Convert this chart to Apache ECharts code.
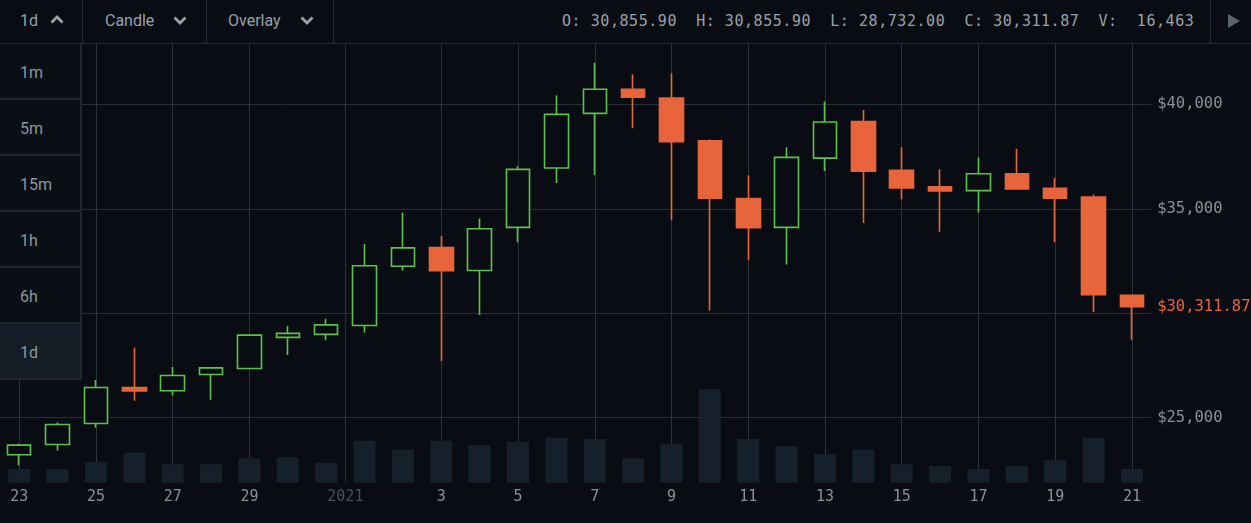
<!DOCTYPE html>
<html>
<head>
<meta charset="utf-8">
<script src="https://cdn.jsdelivr.net/npm/echarts@6/dist/echarts.min.js"></script>
<style>
html,body{margin:0;padding:0;background:#090d13;width:1251px;height:523px;overflow:hidden;}
#chart{position:absolute;left:0;top:0;width:1251px;height:523px;}
#top{position:absolute;left:0;top:0;width:1251px;height:43px;background:#090d13;border-bottom:1px solid #262d35;font-family:Roboto,'Noto Sans',sans-serif;font-size:16px;color:#97a1ab;}
.txt{position:absolute;top:0;height:43px;line-height:42px;white-space:pre;}
.sep{position:absolute;top:0;width:1px;height:43px;background:#262d35;}
.chev{position:absolute;top:15px;}
#ohlc{position:absolute;left:562px;top:0;height:43px;line-height:42px;font-family:'DejaVu Sans Mono',monospace;font-size:15px;letter-spacing:0.55px;color:#9ba1a8;white-space:pre;}
#menu{position:absolute;left:0;top:44px;width:80px;border-right:2px solid #1f262e;}
.item{height:54px;border-bottom:2px solid #1f262e;padding-left:20px;line-height:57px;font-family:Roboto,'Noto Sans',sans-serif;font-size:16px;color:#8e969e;background:#0a0f15;}
.item.sel{background:#141c25;}
</style>
</head>
<body>
<div id="chart"></div>
<div id="top">
  <div class="txt" style="left:20px;">1d</div>
  <svg class="chev" style="left:50px;" width="14" height="9"><polyline points="1.5,7.5 7,2 12.5,7.5" fill="none" stroke="#9aa3ad" stroke-width="2.8"/></svg>
  <div class="sep" style="left:82px;"></div>
  <div class="txt" style="left:105px;">Candle</div>
  <svg class="chev" style="left:173px;top:16px;" width="14" height="9"><polyline points="1.5,1.5 7,7 12.5,1.5" fill="none" stroke="#9aa3ad" stroke-width="2.8"/></svg>
  <div class="sep" style="left:206px;"></div>
  <div class="txt" style="left:228px;">Overlay</div>
  <svg class="chev" style="left:300px;top:16px;" width="14" height="9"><polyline points="1.5,1.5 7,7 12.5,1.5" fill="none" stroke="#9aa3ad" stroke-width="2.8"/></svg>
  <div class="sep" style="left:333px;"></div>
  <div id="ohlc">O: 30,855.90  H: 30,855.90  L: 28,732.00  C: 30,311.87  V:  16,463</div>
  <div class="sep" style="left:1210px;"></div>
  <svg style="position:absolute;left:1228px;top:14px;" width="13" height="14"><polygon points="0,0 12,7 0,14" fill="#5c636b"/></svg>
</div>
<div id="menu">
  <div class="item">1m</div>
  <div class="item">5m</div>
  <div class="item">15m</div>
  <div class="item">1h</div>
  <div class="item">6h</div>
  <div class="item sel">1d</div>
</div>
<script>
// Day index 0 = Dec 23 ... 29 = Jan 21
const dayIndex = [0,1,2,3,4,5,6,7,8,9,10,11,12,13,14,15,16,17,18,19,20,21,22,23,24,25,26,27,28,29];
const opens  = [23224,23714,24714,26443,26286,27062,27348,28843,28986,29414,32252,33143,32048,34110,36952,39571,40729,40310,38252,35490,34110,37429,39176,36843,36048,35871,36681,35986,35557,30855.90];
const closes = [23681,24667,26443,26271,27014,27381,28952,29033,29443,32271,33129,32033,34048,36890,39524,40729,40348,38214,35510,34095,37462,39157,36795,36000,35857,36681,35952,35510,30890,30311.87];
const lows   = [22714,23428,24510,25810,26062,25857,27319,28000,28700,29062,32048,27714,29919,33395,36238,36605,38857,34467,30129,32538,32333,36810,34319,35462,33905,34824,35919,33395,30062,28732.00];
const highs  = [23748,24762,26795,28348,27429,27400,28986,29381,29729,33319,34810,33700,34538,37033,40443,42000,41429,41490,38319,36605,37952,40143,39729,37952,36890,37462,37871,36476,35681,30855.90];
const volumes= [16500,16500,25200,36100,22100,22100,29300,30500,24000,50500,40100,50500,45300,48900,54100,52500,29300,46900,112300,52500,43800,34500,40100,22100,20100,16500,20100,27300,54100,16463];
const tickValues = [0,2,4,6,8.5,11,13,15,17,19,21,23,25,27,29];
const tickLabels = ['23','25','27','29','2021','3','5','7','9','11','13','15','17','19','21'];
const priceTicks = [25000,35000,40000];
const lastPrice = 30311.87;
const lastPriceLabel = '$30,311.87';

const candleData = dayIndex.map((d,i)=>[d, opens[i], closes[i], lows[i], highs[i]]);
const volData = dayIndex.map((d,i)=>[d, volumes[i]]);

const mono = "'DejaVu Sans Mono', monospace";
const BG = '#090d13';
const GREEN = '#5cc24a';
const ORANGE = '#e8643a';

const chart = echarts.init(document.getElementById('chart'), null, {renderer:'canvas'});
chart.setOption({
  animation: false,
  backgroundColor: BG,
  grid: [
    {left: -3.24, right: 99.84, top: -3, bottom: 1},
    {left: -3.24, right: 99.84, top: 44, bottom: 40.3}
  ],
  xAxis: [
    {type:'value', gridIndex:0, min:-0.5, max:29.5, show:false, splitLine:{show:false}},
    {type:'value', gridIndex:1, min:-0.5, max:29.5, interval:0.5,
     axisLine:{show:false}, axisTick:{show:false}, splitLine:{show:false},
     axisLabel:{
       margin: 7,
       fontFamily: mono, fontSize: 15, color:'#8b9199',
       showMinLabel:false, showMaxLabel:false,
       formatter: function(v){
         const k = tickValues.indexOf(v);
         if (k < 0) return '';
         return tickLabels[k] === '2021' ? '{y|2021}' : tickLabels[k];
       },
       rich: { y: {color:'#4a5058', fontFamily: mono, fontSize: 15} }
     }}
  ],
  yAxis: [
    {type:'value', gridIndex:0, position:'right', min:20000, max:45000, interval:5000,
     axisLine:{show:false}, axisTick:{show:false},
     splitLine:{show:true, showMinLine:false, showMaxLine:false, lineStyle:{color:'#2a3038', width:1}},
     axisLabel:{
       margin: 6, fontFamily: mono, fontSize: 15.5, color:'#8b9199',
       showMinLabel:false, showMaxLabel:false,
       formatter: function(v){
         if (priceTicks.indexOf(v) < 0) return '';
         return '$' + v.toLocaleString('en-US');
       }
     }},
    {type:'value', gridIndex:1, min:0, max:527000, show:false, splitLine:{show:false}}
  ],
  series: [
    {
      type:'bar', xAxisIndex:1, yAxisIndex:1, z:3,
      data: volData, barWidth: 22,
      itemStyle:{color:'#16202a'},
      silent:true,
      markLine:{
        silent:true, symbol:'none', z:1,
        label:{show:false},
        lineStyle:{color:'#2d333b', width:1, type:'solid'},
        emphasis:{disabled:true},
        data: tickValues.map(v=>({xAxis:v}))
      }
    },
    {
      type:'candlestick', xAxisIndex:0, yAxisIndex:0, z:4,
      data: candleData, barWidth: 24,
      itemStyle:{color:BG, color0:ORANGE, borderColor:GREEN, borderColor0:ORANGE, borderWidth:1.6},
      silent:true,
      markLine:{
        silent:true, symbol:'none', z:6,
        lineStyle:{color:'rgba(0,0,0,0)', width:1, type:'solid'},
        label:{show:true, position:'end', distance:6, formatter:lastPriceLabel, opacity:1,
               color:ORANGE, fontFamily:mono, fontSize:15.5, backgroundColor:BG, padding:[3,4,4,0]},
        emphasis:{disabled:true},
        data:[{yAxis:lastPrice}]
      }
    }
  ]
});
</script>
</body>
</html>
